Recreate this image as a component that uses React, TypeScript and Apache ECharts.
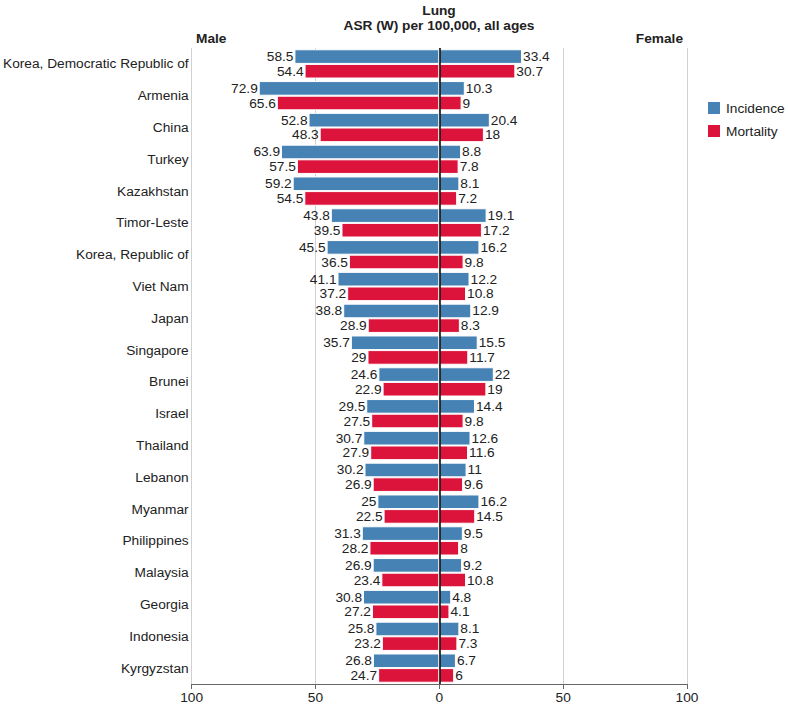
import React, { useEffect, useRef } from "react";
import * as echarts from "echarts";

const countries = [
  "Korea, Democratic Republic of", "Armenia", "China", "Turkey", "Kazakhstan",
  "Timor-Leste", "Korea, Republic of", "Viet Nam", "Japan", "Singapore",
  "Brunei", "Israel", "Thailand", "Lebanon", "Myanmar",
  "Philippines", "Malaysia", "Georgia", "Indonesia", "Kyrgyzstan",
];
const maleIncidence = [58.5, 72.9, 52.8, 63.9, 59.2, 43.8, 45.5, 41.1, 38.8, 35.7, 24.6, 29.5, 30.7, 30.2, 25, 31.3, 26.9, 30.8, 25.8, 26.8];
const maleMortality = [54.4, 65.6, 48.3, 57.5, 54.5, 39.5, 36.5, 37.2, 28.9, 29, 22.9, 27.5, 27.9, 26.9, 22.5, 28.2, 23.4, 27.2, 23.2, 24.7];
const femaleIncidence = [33.4, 10.3, 20.4, 8.8, 8.1, 19.1, 16.2, 12.2, 12.9, 15.5, 22, 14.4, 12.6, 11, 16.2, 9.5, 9.2, 4.8, 8.1, 6.7];
const femaleMortality = [30.7, 9, 18, 7.8, 7.2, 17.2, 9.8, 10.8, 8.3, 11.7, 19, 9.8, 11.6, 9.6, 14.5, 8, 10.8, 4.1, 7.3, 6];

const FONT = "'Liberation Sans', Arial, Helvetica, sans-serif";
const BLUE = "#4682b4";
const RED = "#dc143c";
const TXT = "#222";
const FS = 13.7;

export default function App() {
  const ref = useRef<HTMLDivElement>(null);
  useEffect(() => {
    if (!ref.current) return;
    const chart = echarts.init(ref.current, null, { renderer: "svg" });
    const lbl = (pos: string) => ({
      show: true,
      position: pos,
      distance: 1,
      color: TXT,
      fontSize: FS,
      fontFamily: FONT,
      formatter: (p: any) => String(Math.abs(p.value)),
    });
    const common = {
      type: "bar",
      barGap: "0%",
      barCategoryGap: "8%",
      itemStyle: { borderColor: "#fff", borderWidth: 1 },
    };
    chart.setOption({
      animation: false,
      textStyle: { fontFamily: FONT },
      grid: { left: 191, right: 101, top: 48, bottom: 21, containLabel: false },
      legend: {
        data: ["Incidence", "Mortality"],
        orient: "vertical",
        left: 701,
        top: 95,
        itemWidth: 14,
        itemHeight: 14,
        itemGap: 7,
        icon: "rect",
        textStyle: { fontSize: FS, color: TXT, fontFamily: FONT },
      },
      graphic: [
        { type: "text", x: 439, y: 10, style: { text: "Lung", fill: TXT, textAlign: "center", textVerticalAlign: "middle", font: `bold ${FS}px ${FONT}` } },
        { type: "text", x: 439, y: 25, style: { text: "ASR (W) per 100,000, all ages", fill: TXT, textAlign: "center", textVerticalAlign: "middle", font: `bold ${FS}px ${FONT}` } },
        { type: "text", x: 196, y: 38, style: { text: "Male", fill: TXT, textAlign: "left", textVerticalAlign: "middle", font: `bold ${FS}px ${FONT}` } },
        { type: "text", x: 683, y: 38, style: { text: "Female", fill: TXT, textAlign: "right", textVerticalAlign: "middle", font: `bold ${FS}px ${FONT}` } },
      ],
      xAxis: {
        type: "value",
        min: -100,
        max: 100,
        interval: 50,
        axisLine: { show: true, lineStyle: { color: "#666" } },
        axisTick: { show: true, length: 5, lineStyle: { color: "#666" } },
        axisLabel: { color: TXT, fontSize: FS, fontFamily: FONT, margin: 6, formatter: (v: number) => String(Math.abs(v)) },
        splitLine: { show: true, lineStyle: { color: "#d0d0d0" } },
      },
      yAxis: {
        type: "category",
        inverse: true,
        data: countries,
        axisLine: { show: false },
        axisTick: { show: false },
        splitLine: { show: false },
        axisLabel: { color: TXT, fontSize: FS, fontFamily: FONT, margin: 3 },
      },
      series: [
        { ...common, name: "Incidence", stack: "inc", color: BLUE, data: maleIncidence.map((v) => -v), label: lbl("left"),
          markLine: { silent: true, symbol: "none", label: { show: false }, lineStyle: { color: "#000", width: 1.5, type: "solid" }, data: [{ xAxis: 0 }] } },
        { ...common, name: "Mortality", stack: "mort", color: RED, data: maleMortality.map((v) => -v), label: lbl("left") },
        { ...common, name: "Incidence", stack: "inc", color: BLUE, data: femaleIncidence, label: lbl("right") },
        { ...common, name: "Mortality", stack: "mort", color: RED, data: femaleMortality, label: lbl("right") },
      ],
    });
    return () => chart.dispose();
  }, []);
  return <div ref={ref} style={{ width: 788, height: 705, position: "absolute", left: 0, top: 0 }} />;
}
